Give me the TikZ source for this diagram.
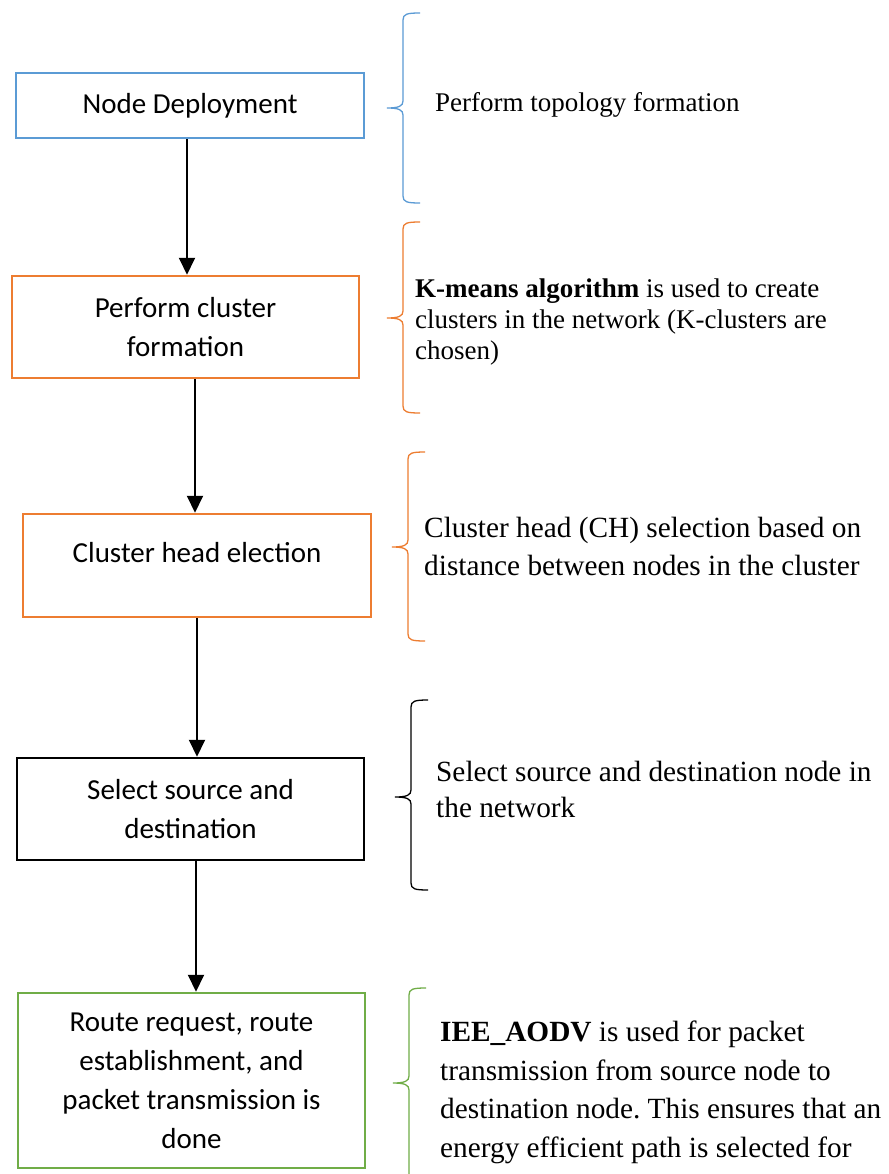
\documentclass[tikz,border=0pt]{standalone}
\usepackage{fontspec}
\setmainfont{Liberation Serif}
\newfontfamily\boxfont{Carlito}
\usetikzlibrary{arrows.meta}
\definecolor{boxblue}{HTML}{5B9BD5}
\definecolor{boxorange}{HTML}{ED7D31}
\definecolor{boxgreen}{HTML}{70AD47}
\frenchspacing
\newcommand\mybrace[5]{%
  \draw[#1, line width=1.3pt] ({#2+17},#3) .. controls ({#2+4},#3) and (#2,{#3+1}) .. (#2,{#3+7})
    -- (#2,{#4-7}) .. controls (#2,{#4-2}) and ({#2-4},#4) .. ({#2-16},#4)
    .. controls ({#2-4},#4) and (#2,{#4+2}) .. (#2,{#4+7})
    -- (#2,{#5-7}) .. controls (#2,{#5-1}) and ({#2+4},#5) .. ({#2+17},#5);}
\begin{document}
\begin{tikzpicture}[x=1pt,y=-1pt,
  flowbox/.style={draw=#1, line width=2.5pt, rectangle, inner sep=0pt, align=center,
    font=\boxfont\fontsize{29}{39}\selectfont},
  desc/.style={anchor=north west, inner sep=0pt, align=left},
  arr/.style={line width=2pt, -{Triangle[width=16pt,length=17pt]}}]
\useasboundingbox[fill=white] (0,0) rectangle (888,1174);

\node[flowbox=boxblue, minimum width=348pt, minimum height=65pt] (n1) at (190,105.5) {Node Deployment};
\node[flowbox=boxorange, minimum width=347pt, minimum height=102pt] (n2) at (185.5,327) {Perform cluster\\formation};
\node[flowbox=boxorange, minimum width=348pt, minimum height=103pt, text depth=27pt] (n3) at (197,565.5) {Cluster head election};
\node[flowbox=black, minimum width=347pt, minimum height=102pt] (n4) at (190.5,809) {Select source and\\destination};
\node[flowbox=boxgreen, minimum width=347pt, minimum height=175pt] (n5) at (191.5,1080.5) {Route request, route\\establishment, and\\packet transmission is\\done};

\coordinate (a1) at (187,0);
\coordinate (a2) at (195,0);
\coordinate (a3) at (197,0);
\coordinate (a4) at (196,0);
\draw[arr] (n1.south -| a1) -- (n2.north -| a1);
\draw[arr] (n2.south -| a2) -- (n3.north -| a2);
\draw[arr] (n3.south -| a3) -- (n4.north -| a3);
\draw[arr] (n4.south -| a4) -- (n5.north -| a4);

\mybrace{boxblue}{403}{13}{108}{203}
\mybrace{boxorange}{403}{222}{318}{413}
\mybrace{boxorange}{408}{452}{547}{641}
\mybrace{black}{411}{700}{797}{890}
\mybrace{boxgreen}{409}{988}{1083}{1185}

\node[desc, font=\fontsize{27}{31}\selectfont] (t1) at (435,92.5) {Perform topology formation};
\node[desc, font=\fontsize{27}{31}\selectfont] (t2) at (415,278.5) {\textbf{K-means algorithm} is used to create\\clusters in the network (K-clusters are\\chosen)};
\node[desc, font=\fontsize{29.3}{38}\selectfont] (t3) at (424,517) {Cluster head (CH) selection based on\\distance between nodes in the cluster};
\node[desc, font=\fontsize{29.3}{36}\selectfont] (t4) at (436,760.5) {Select source and destination node in\\the network};
\node[desc, font=\fontsize{29.3}{38.7}\selectfont] (t5) at (440,1020.5) {\textbf{IEE\_AODV} is used for packet\\transmission from source node to\\destination node. This ensures that an\\energy efficient path is selected for};
\end{tikzpicture}
\end{document}
